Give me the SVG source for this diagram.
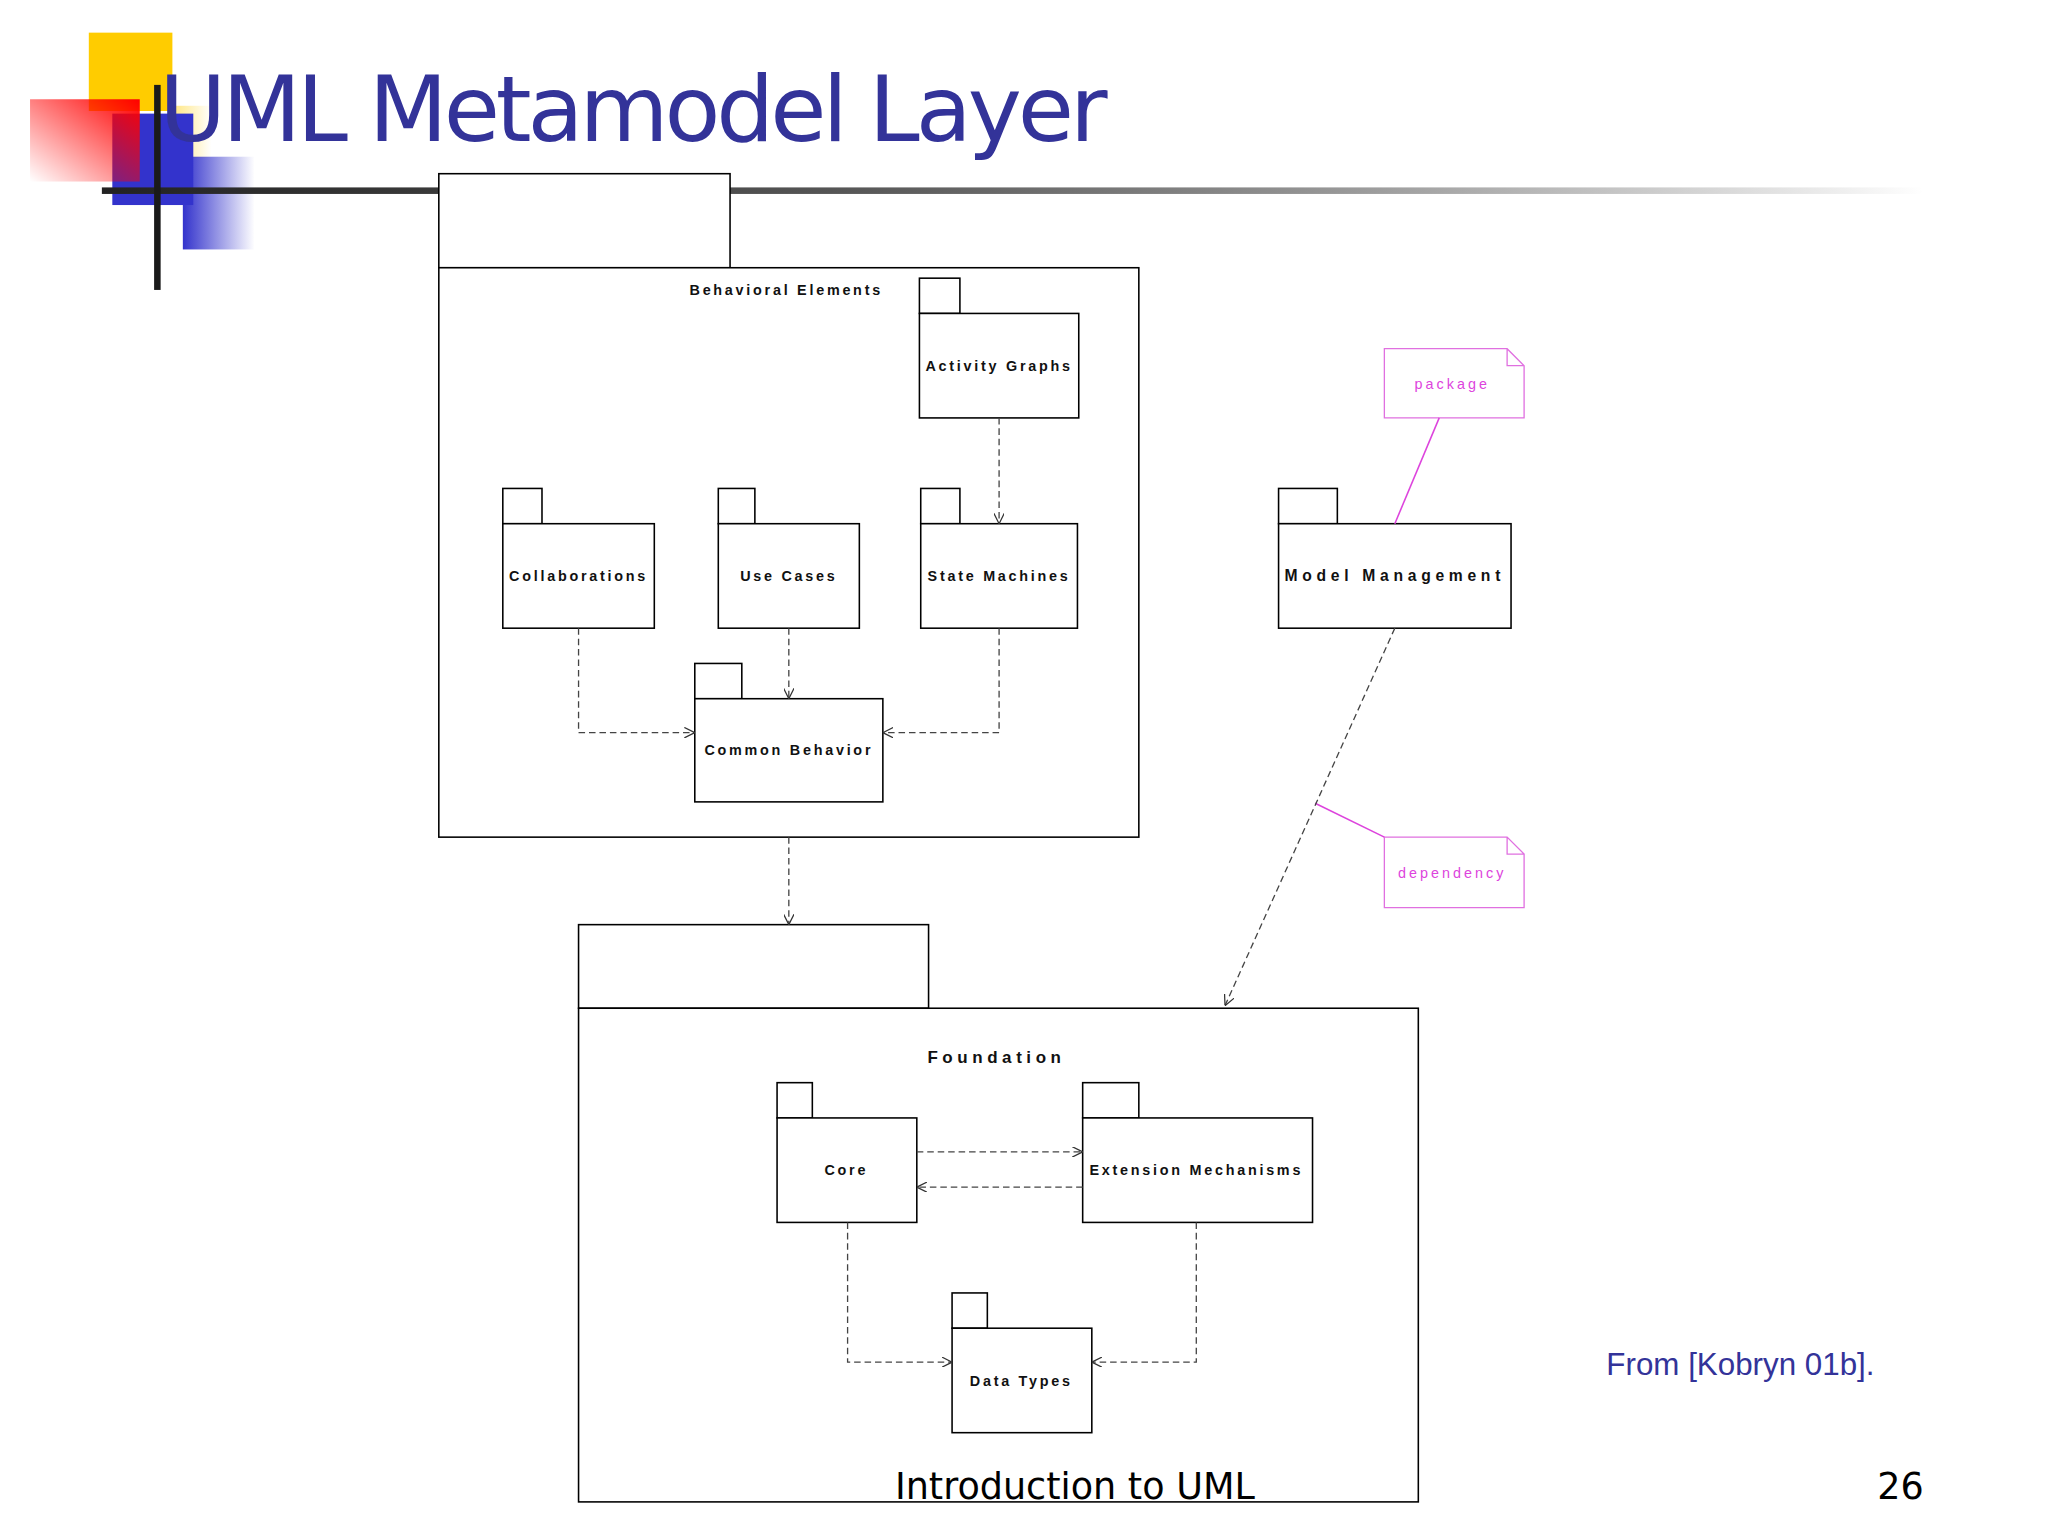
<svg xmlns="http://www.w3.org/2000/svg" width="2048" height="1536" viewBox="0 0 2048 1536">
<defs>
<linearGradient id="red" x1="1" y1="0" x2="0" y2="1"><stop offset="0" stop-color="#ff0000"/><stop offset="1" stop-color="#ff0000" stop-opacity="0"/></linearGradient>
<linearGradient id="blu" x1="0" y1="0" x2="1" y2="0"><stop offset="0" stop-color="#3333cc"/><stop offset="1" stop-color="#3333cc" stop-opacity="0"/></linearGradient>
<linearGradient id="pyel" x1="0" y1="0" x2="1" y2="0"><stop offset="0" stop-color="#ffe680"/><stop offset="1" stop-color="#ffe680" stop-opacity="0"/></linearGradient>
<linearGradient id="hl" x1="0" y1="0" x2="1" y2="0"><stop offset="0" stop-color="#222"/><stop offset="0.4" stop-color="#555"/><stop offset="1" stop-color="#222" stop-opacity="0"/></linearGradient>
<marker id="ar" viewBox="0 0 10 10" refX="10" refY="5" markerWidth="8" markerHeight="8" orient="auto" markerUnits="userSpaceOnUse"><path d="M0,0 L10,5 L0,10" fill="none" stroke="#333" stroke-width="1.2"/></marker>
<style>
.b{fill:#fff;stroke:#000;stroke-width:1.2}
.t{font-family:"Liberation Sans",Arial,sans-serif;font-size:11px;font-weight:bold;letter-spacing:2.1px;text-anchor:middle;fill:#111}
.n{fill:#fff;stroke:#e070e0;stroke-width:1}
.nt{font-family:"Liberation Sans",Arial,sans-serif;font-size:11px;letter-spacing:2.3px;text-anchor:middle;fill:#dd44dd}
.d{fill:none;stroke:#444;stroke-width:1;stroke-dasharray:5,3;marker-end:url(#ar)}
</style>
</defs>
<rect width="2048" height="1536" fill="#fff"/>
<g transform="scale(1.306)">
<g id="decor">
<rect x="68" y="25" width="64" height="60" fill="#ffcc00"/>
<rect x="132" y="81" width="30" height="40" fill="url(#pyel)"/>
<rect x="86" y="87" width="62" height="70" fill="#3333cc"/>
<rect x="23" y="76" width="84" height="63" fill="url(#red)"/>
<rect x="140" y="120" width="55" height="71" fill="url(#blu)"/>
<rect x="78" y="143.5" width="1395" height="5" fill="url(#hl)"/>
<rect x="118" y="65" width="5" height="157" fill="#1a1a1a"/>
</g>
<text x="122" y="108" textLength="726" font-family="DejaVu Sans,Verdana,sans-serif" font-size="70" fill="#333399">UML Metamodel Layer</text>

<g id="behavioral"><rect class="b" x="336" y="133" width="223" height="72"/><rect class="b" x="336" y="205" width="536" height="436"/><text class="t" x="602" y="226">Behavioral Elements</text></g>
<g id="activity"><rect class="b" x="704" y="213" width="31" height="27"/><rect class="b" x="704" y="240" width="122" height="80"/><text class="t" x="765" y="284">Activity Graphs</text></g>
<g id="collab"><rect class="b" x="385" y="374" width="30" height="27"/><rect class="b" x="385" y="401" width="116" height="80"/><text class="t" x="443" y="445">Collaborations</text></g>
<g id="usecases"><rect class="b" x="550" y="374" width="28" height="27"/><rect class="b" x="550" y="401" width="108" height="80"/><text class="t" x="604" y="445">Use Cases</text></g>
<g id="statemachines"><rect class="b" x="705" y="374" width="30" height="27"/><rect class="b" x="705" y="401" width="120" height="80"/><text class="t" x="765" y="445">State Machines</text></g>
<g id="common"><rect class="b" x="532" y="508" width="36" height="27"/><rect class="b" x="532" y="535" width="144" height="79"/><text class="t" x="604" y="578">Common Behavior</text></g>
<g id="modelmgmt"><rect class="b" x="979" y="374" width="45" height="27"/><rect class="b" x="979" y="401" width="178" height="80"/><text class="t" x="1068" y="445" style="letter-spacing:3.6px;font-size:12px">Model Management</text></g>
<g id="foundation"><rect class="b" x="443" y="708" width="268" height="64"/><rect class="b" x="443" y="772" width="643" height="378"/><text class="t" x="763" y="814" style="font-size:13px;letter-spacing:3.5px">Foundation</text></g>
<g id="core"><rect class="b" x="595" y="829" width="27" height="27"/><rect class="b" x="595" y="856" width="107" height="80"/><text class="t" x="648" y="900">Core</text></g>
<g id="ext"><rect class="b" x="829" y="829" width="43" height="27"/><rect class="b" x="829" y="856" width="176" height="80"/><text class="t" x="916" y="900">Extension Mechanisms</text></g>
<g id="datatypes"><rect class="b" x="729" y="990" width="27" height="27"/><rect class="b" x="729" y="1017" width="107" height="80"/><text class="t" x="782" y="1061">Data Types</text></g>

<g id="notes">
<path class="n" d="M1060,267 H1154 L1167,280 V320 H1060 Z M1154,267 V280 H1167"/>
<text class="nt" x="1112" y="298">package</text>
<line x1="1102" y1="320" x2="1068" y2="401" stroke="#dd44dd" stroke-width="1.2"/>
<path class="n" d="M1060,641 H1154 L1167,654 V695 H1060 Z M1154,641 V654 H1167"/>
<text class="nt" x="1112" y="672">dependency</text>
<line x1="1060" y1="641" x2="1007" y2="615" stroke="#dd44dd" stroke-width="1.2"/>
</g>

<g id="connectors">
<path class="d" d="M765,320 V401"/>
<path class="d" d="M443,481 V561 H532"/>
<path class="d" d="M604,481 V535"/>
<path class="d" d="M765,481 V561 H676"/>
<path class="d" d="M604,641 V708"/>
<path class="d" d="M1068,481 L938,770"/>
<path class="d" d="M702,882 H829"/>
<path class="d" d="M829,909 H702"/>
<path class="d" d="M649,936 V1043 H729"/>
<path class="d" d="M916,936 V1043 H836"/>
</g>

<text x="1230" y="1053" font-family="Liberation Sans,Arial,sans-serif" font-size="24" fill="#333399">From [Kobryn 01b].</text>
<text x="823" y="1148" text-anchor="middle" font-family="DejaVu Sans,Verdana,sans-serif" font-size="28" fill="#000">Introduction to UML</text>
<text x="1473" y="1148" text-anchor="end" font-family="DejaVu Sans,Verdana,sans-serif" font-size="28" fill="#000">26</text>
</g>
</svg>
